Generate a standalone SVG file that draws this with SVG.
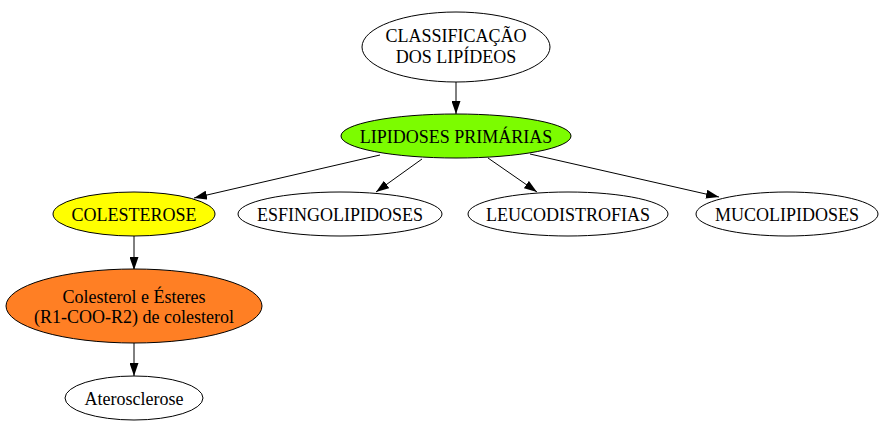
<svg xmlns="http://www.w3.org/2000/svg" width="884" height="426" viewBox="0 0 884 426">
<style>
.n ellipse{stroke:#000;stroke-width:1}
.n text{font-family:"Liberation Serif","Times New Roman",serif;font-size:18px;fill:#000;text-anchor:middle}
.e line{stroke:#000;stroke-width:1}
</style>
<defs>
<marker id="ah" viewBox="0 0 13 9" refX="13" refY="4.5" markerWidth="13" markerHeight="9" markerUnits="userSpaceOnUse" orient="auto">
<path d="M0,0 L13,4.5 L0,9 Z" fill="#000"/>
</marker>
</defs>
<rect width="884" height="426" fill="#fff"/>
<g id="edges" class="e">
<line x1="456" y1="82" x2="456" y2="114" marker-end="url(#ah)"/>
<line x1="380" y1="155" x2="194" y2="198" marker-end="url(#ah)"/>
<line x1="422" y1="159" x2="376" y2="192" marker-end="url(#ah)"/>
<line x1="488" y1="158" x2="537" y2="192" marker-end="url(#ah)"/>
<line x1="530" y1="154" x2="719" y2="197" marker-end="url(#ah)"/>
<line x1="134" y1="236" x2="134" y2="270" marker-end="url(#ah)"/>
<line x1="134" y1="343" x2="134" y2="376" marker-end="url(#ah)"/>
</g>
<g id="classificacao" class="n">
<ellipse cx="456" cy="47" rx="94" ry="35" fill="#fff"/>
<text x="456" y="42">CLASSIFICAÇÃO</text>
<text x="456" y="63">DOS LIPÍDEOS</text>
</g>
<g id="lipidoses" class="n">
<ellipse cx="456" cy="136" rx="115" ry="22" fill="#7cfc00"/>
<text x="456" y="143">LIPIDOSES PRIMÁRIAS</text>
</g>
<g id="colesterose" class="n">
<ellipse cx="134" cy="214" rx="81" ry="22" fill="#ffff00"/>
<text x="134" y="221">COLESTEROSE</text>
</g>
<g id="esfingolipidoses" class="n">
<ellipse cx="340" cy="214" rx="102" ry="22" fill="#fff"/>
<text x="340" y="221">ESFINGOLIPIDOSES</text>
</g>
<g id="leucodistrofias" class="n">
<ellipse cx="568" cy="214" rx="100" ry="22" fill="#fff"/>
<text x="568" y="221">LEUCODISTROFIAS</text>
</g>
<g id="mucolipidoses" class="n">
<ellipse cx="787" cy="214" rx="91" ry="22" fill="#fff"/>
<text x="787" y="221">MUCOLIPIDOSES</text>
</g>
<g id="colesterol" class="n">
<ellipse cx="134" cy="306" rx="128" ry="37" fill="#ff7f24"/>
<text x="134" y="303">Colesterol e Ésteres</text>
<text x="134" y="323">(R1-COO-R2) de colesterol</text>
</g>
<g id="aterosclerose" class="n">
<ellipse cx="134" cy="398" rx="69" ry="22" fill="#fff"/>
<text x="134" y="405">Aterosclerose</text>
</g>
</svg>
